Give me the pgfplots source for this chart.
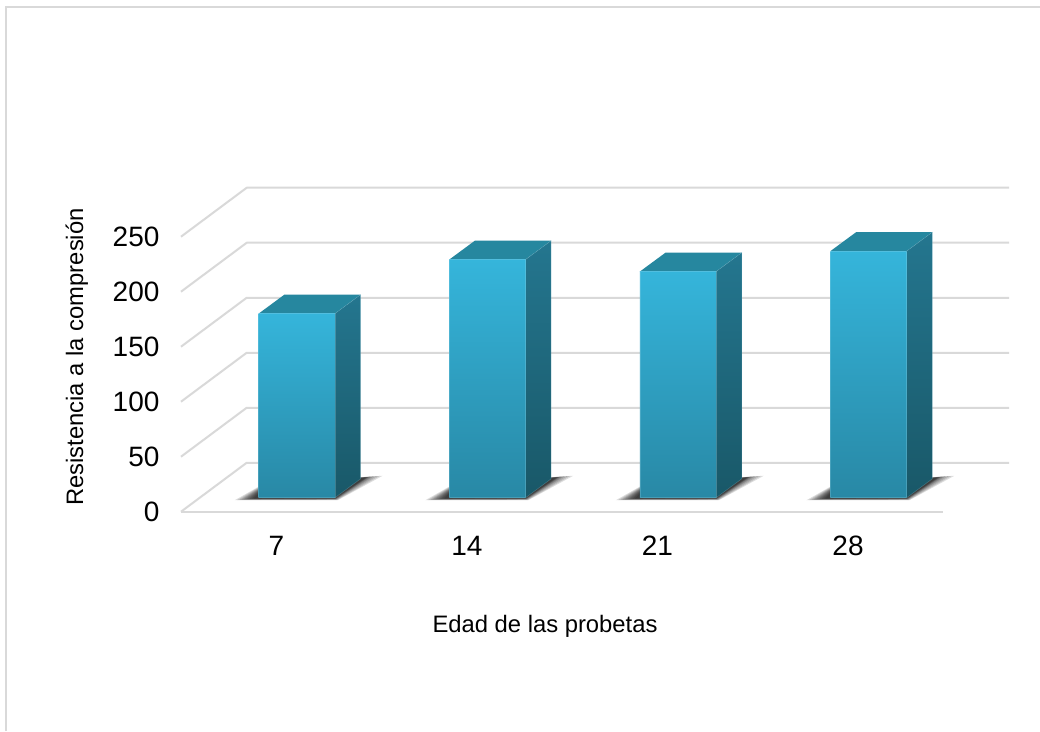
\documentclass[border=0pt]{standalone}
\usepackage{fontspec}
\setmainfont{Liberation Sans}
\usepackage{pgfplots}
\pgfplotsset{compat=1.18}

\definecolor{gridgray}{HTML}{D9D9D9}
\definecolor{frontTop}{HTML}{35B5DB}
\definecolor{frontBot}{HTML}{2888A5}
\definecolor{sideTop}{HTML}{24768F}
\definecolor{sideBot}{HTML}{195868}
\definecolor{capFill}{HTML}{26879F}
\definecolor{barEdge}{HTML}{A5DCEB}

% Scale: 190.6 pt per category along x, 1.1016 pt per unit along y.
% Floor depth of the bars above the front plane, in value units: 12.7.
\newcommand\wallline[1]{%
  \pgfmathsetmacro\wbk{#1+44.5}%
  \addplot[gridgray,line width=2pt,line join=round] coordinates {(-0.5,#1) (-0.1553,\wbk) (3.8447,\wbk)};%
}
% One layer of the soft floor shadow: left edge of the bar, then four corners in pt.
\newcommand\shadowlayer[9]{%
  \pgfmathsetmacro\ax{#1+#2/190.6}\pgfmathsetmacro\ay{12.7+#3/1.1016}%
  \pgfmathsetmacro\bx{#1+#4/190.6}\pgfmathsetmacro\by{12.7+#5/1.1016}%
  \pgfmathsetmacro\cx{#1+#6/190.6}\pgfmathsetmacro\cy{12.7+#7/1.1016}%
  \pgfmathsetmacro\dx{#1+#8/190.6}\pgfmathsetmacro\dy{12.7+#9/1.1016}%
  \addplot[fill=black,draw=none,fill opacity=0.13] coordinates {(\ax,\ay) (\bx,\by) (\cx,\cy) (\dx,\dy) (\ax,\ay)};%
}
\newcommand\floorshadow[1]{%
  \shadowlayer{#1}{-24}{-2.5}{5}{14}{124}{22}{79}{-2.5}%
  \shadowlayer{#1}{-21.5}{-2.3}{5}{13.5}{121}{21.8}{78.5}{-2.3}%
  \shadowlayer{#1}{-19}{-2.1}{5}{13}{118}{21.6}{78}{-2}%
  \shadowlayer{#1}{-17}{-1.9}{5}{12.5}{115}{21.4}{77.5}{-1.8}%
  \shadowlayer{#1}{-15}{-1.7}{5}{12}{113}{21.2}{77.5}{-1.5}%
  \shadowlayer{#1}{-13}{-1.5}{5}{11.5}{111}{21}{77}{-1.3}%
  \shadowlayer{#1}{-11}{-1.3}{5}{11}{110}{20.8}{77}{-1.1}%
  \shadowlayer{#1}{-9}{-1.1}{5}{10.5}{109}{20.6}{76.5}{-0.9}%
  \shadowlayer{#1}{-7}{-0.9}{5}{10}{108}{20.4}{76.5}{-0.7}%
  \shadowlayer{#1}{-5}{-0.8}{5}{9.5}{107}{20.2}{76}{-0.5}%
}
% A bar: left edge of its front face and its value.
\newcommand\solidbar[2]{%
  \pgfmathsetmacro\xl{#1}\pgfmathsetmacro\xr{#1+0.4}%
  \pgfmathsetmacro\xbl{#1+0.135}\pgfmathsetmacro\xbr{#1+0.535}%
  \pgfmathsetmacro\yb{12.7}\pgfmathsetmacro\yt{12.7+#2}%
  \pgfmathsetmacro\ybb{12.7+17.25}\pgfmathsetmacro\ytb{12.7+#2+17.25}%
  \addplot[draw=none,fill=capFill] coordinates {(\xl,\yt) (\xbl,\ytb) (\xbr,\ytb) (\xr,\yt) (\xl,\yt)};
  \addplot[draw=barEdge,draw opacity=0.25,line width=0.5pt,shade,top color=sideTop,bottom color=sideBot] coordinates {(\xr,\yb) (\xbr,\ybb) (\xbr,\ytb) (\xr,\yt) (\xr,\yb)};
  \addplot[draw=barEdge,draw opacity=0.25,line width=0.5pt,shade,top color=frontTop,bottom color=frontBot] coordinates {(\xl,\yb) (\xr,\yb) (\xr,\yt) (\xl,\yt) (\xl,\yb)};
}

\begin{document}
\begin{tikzpicture}[x=1pt,y=1pt]
\useasboundingbox (0,0) rectangle (1040,731);
\fill[white] (0,0) rectangle (1040,731);
\draw[gridgray,line width=2pt] (5.7,0) -- (5.7,723.7) -- (1040,723.7);
\begin{axis}[
  at={(181pt,219.3pt)},anchor=south west,
  scale only axis,width=762.3pt,height=275pt,
  xmin=-0.5,xmax=3.5,ymin=0,ymax=250,
  clip=false,
  axis line style={draw=none},
  tick style={draw=none},
  major tick length=0pt,
  xtick={0,1,2,3},xticklabels={7,14,21,28},
  ytick={0,50,100,150,200,250},
  /pgf/number format/assume math mode=true,
  tick label style={font=\fontsize{28}{30}\selectfont},
  xticklabel style={yshift=-21pt},
  yticklabel style={anchor=east,xshift=-18pt},
  xlabel={Edad de las probetas},
  ylabel={Resistencia a la compresión},
  label style={font=\fontsize{23.8}{26}\selectfont},
  xlabel style={at={(axis description cs:0.4775,-0.4185)},anchor=center},
  ylabel style={at={(axis description cs:-0.1365,0.5625)},anchor=center},
]
  % Side wall and back wall gridlines
  \wallline{0}\wallline{50}\wallline{100}\wallline{150}\wallline{200}\wallline{250}
  % Front floor edge
  \addplot[gridgray,line width=2pt] coordinates {(-0.5,0) (3.5,0)};
  % Floor shadows
  \floorshadow{-0.0923}\floorshadow{0.9077}\floorshadow{1.9077}\floorshadow{2.9077}
  % Bars
  \solidbar{-0.0923}{167.4}
  \solidbar{0.9077}{216.5}
  \solidbar{1.9077}{205.6}
  \solidbar{2.9077}{224.2}
\end{axis}
\end{tikzpicture}
\end{document}
